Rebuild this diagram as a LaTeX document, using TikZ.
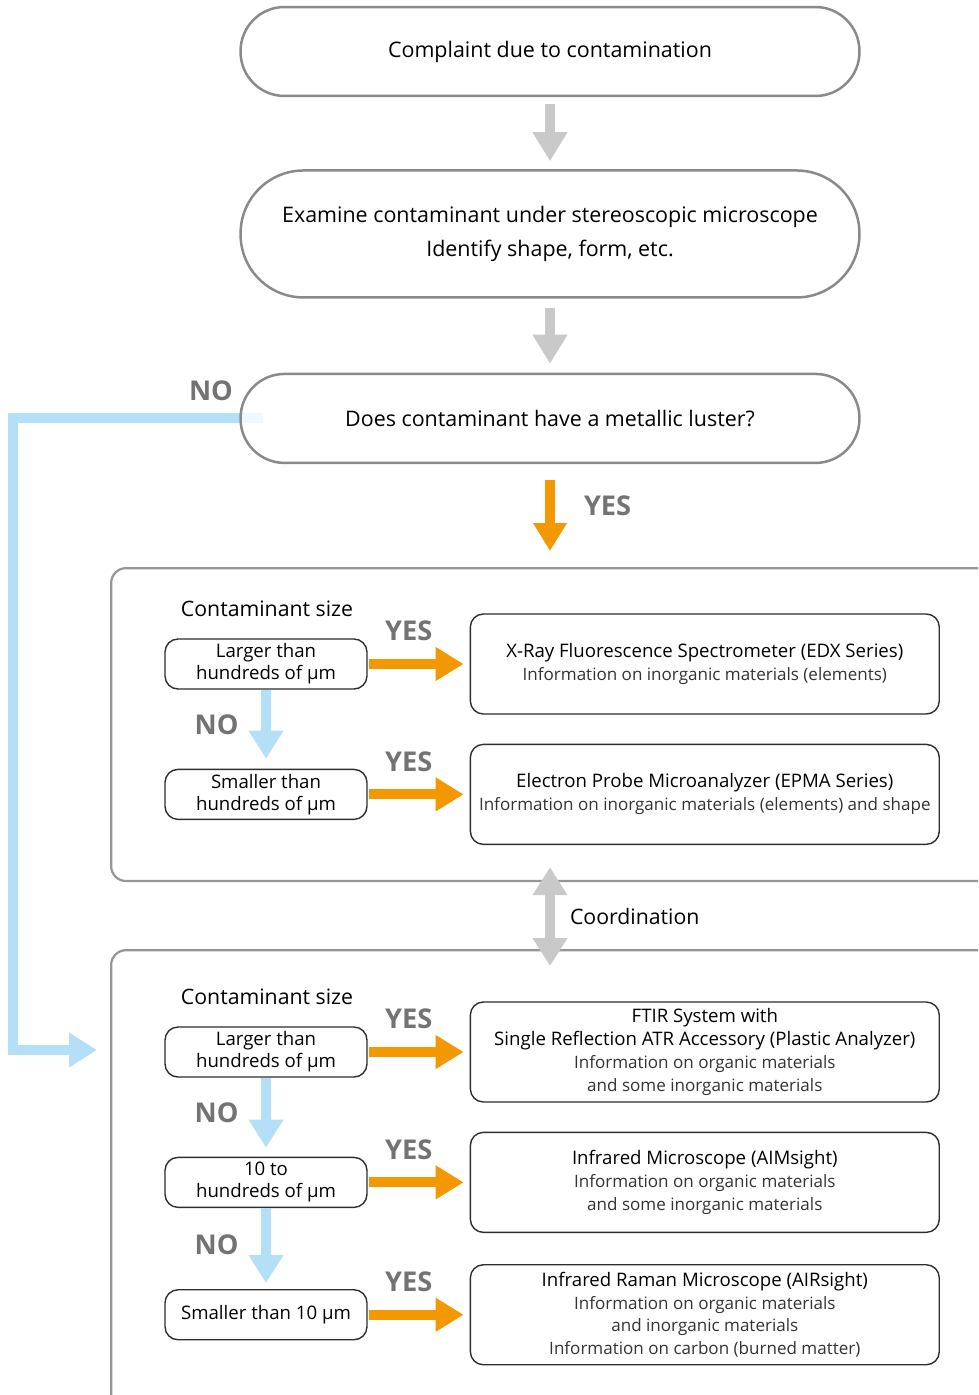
\documentclass[tikz,border=0pt]{standalone}
\usepackage{fontspec}
\setmainfont{Open Sans}
\usepackage{tikz}
\usetikzlibrary{arrows.meta, positioning, backgrounds, calc}
\definecolor{pillgray}{HTML}{8A8A8A}
\definecolor{arrgray}{HTML}{C9C9C9}
\definecolor{yesorange}{HTML}{F39800}
\definecolor{noblue}{HTML}{B4E0F7}
\definecolor{lblgray}{HTML}{737373}
\definecolor{boxdark}{HTML}{2E2E2E}
\tikzset{
  pillnode/.style={
    rectangle, rounded corners=0.88cm,
    minimum width=12.38cm, minimum height=1.78cm,
    text centered, font=\fontsize{12.2}{19.3}\selectfont,
    draw=pillgray, line width=0.05cm, fill=white
  },
  groupbox/.style={
    rectangle, rounded corners=0.3cm, anchor=north west,
    minimum width=19cm, draw=pillgray!90, line width=0.045cm, fill=white
  },
  sizebox/.style={
    rectangle, rounded corners=0.26cm, align=center,
    minimum width=4.04cm, minimum height=1cm, inner sep=0pt,
    font=\fontsize{10.6}{12.5}\selectfont,
    draw=boxdark, line width=0.028cm
  },
  infobox/.style={
    rectangle, rounded corners=0.26cm, align=center,
    minimum width=9.38cm, minimum height=2cm, inner sep=0pt,
    font=\fontsize{10.6}{13}\selectfont,
    draw=boxdark, line width=0.028cm
  },
  grayarrow/.style={-{Triangle[width=0.66cm, length=0.58cm]}, line width=0.2cm, color=arrgray},
  yesarrow/.style={-{Triangle[width=0.64cm, length=0.56cm]}, line width=0.2cm, color=yesorange},
  noarrow/.style={-{Triangle[width=0.66cm, length=0.56cm]}, line width=0.2cm, color=noblue},
  answer/.style={font=\fontsize{15.5}{17}\selectfont\bfseries, text=lblgray, inner sep=0pt},
  sizelbl/.style={font=\fontsize{12.1}{14}\selectfont, text=black, inner sep=0pt},
}

\newcommand{\infotext}[1]{{\fontsize{9.7}{13}\selectfont\color{black!80}#1}}

\begin{document}
\begin{tikzpicture}[x=0.02cm, y=-0.02cm, node distance=1.5cm]
  \useasboundingbox (0,0) rectangle (978,1395);
  \clip (0,0) rectangle (978,1395);

  \node[pillnode](cmp) at (550,51.5){Complaint due to contamination};
  \node[pillnode, minimum height=2.54cm, rounded corners=1.26cm, align=center,
        below=1.44cm of cmp](exam){Examine contaminant under stereoscopic microscope\\
        Identify shape, form, etc.};
  \node[pillnode, fill opacity=0.8, text opacity=1,
        below=1.48cm of exam](lust){Does contaminant have a metallic luster?};
  \node[answer](no0) at (211,391){NO};

  \draw[grayarrow, shorten <=0.14cm, shorten >=0.16cm](cmp.south)--(exam.north);
  \draw[grayarrow, shorten <=0.18cm, shorten >=0.18cm](exam.south)--(lust.north);

  \node[groupbox, minimum height=6.26cm](grp1) at (110,567){};
  \node[groupbox, minimum height=9.5cm](grp2) at (110,949){};

  \draw[yesarrow, shorten <=0.32cm, shorten >=0.32cm](lust.south)--(lust.south |- grp1.north)
    node[answer, pos=0.4, right=0.58cm](yes0){YES};

  \draw[grayarrow, {Triangle[width=0.66cm, length=0.56cm]}-{Triangle[width=0.66cm, length=0.56cm]}]
    ([yshift=0.3cm]lust.south |- grp1.south)--([yshift=-0.34cm]lust.south |- grp2.north)
    node[midway, right=0.3cm, sizelbl](coord){Coordination};

  \coordinate(bend) at (lust.west -| 13,0);
  \begin{scope}[on background layer]
    \draw[noarrow](lust.west) ++(0.48cm,0)--(bend)
      |- ([xshift=-0.26cm]grp2.west |- 0,1050);
  \end{scope}

  \node[sizelbl](cs1) at (267,609){Contaminant size};
  \node[sizebox](lg1) at (266,664){Larger than\\hundreds of µm};
  \node[sizebox, below=1.58cm of lg1](sm1){Smaller than\\hundreds of µm};
  \node[infobox, right=2.04cm of lg1](xrf){X-Ray Fluorescence Spectrometer (EDX Series)\\
        \infotext{Information on inorganic materials (elements)}};
  \node[infobox, right=2.04cm of sm1](epma){Electron Probe Microanalyzer (EPMA Series)\\
        \infotext{Information on inorganic materials (elements) and shape}};

  \draw[noarrow, shorten >=0.2cm](lg1.south)--(sm1.north)
    node[answer, pos=0.45, left=0.45cm](no1){NO};
  \draw[yesarrow, shorten <=0.02cm, shorten >=0.12cm](lg1.east)--(xrf.west)
    node[answer, midway, above=0.36cm, xshift=-0.2cm](yes1){YES};
  \draw[yesarrow, shorten <=0.02cm, shorten >=0.12cm](sm1.east)--(epma.west)
    node[answer, midway, above=0.36cm, xshift=-0.2cm](yes2){YES};

  \node[sizelbl](cs2) at (267,997){Contaminant size};
  \node[sizebox](lg2) at (266,1052){Larger than\\hundreds of µm};
  \node[sizebox, below=1.58cm of lg2](md2){10 to\\hundreds of µm};
  \node[sizebox, below=1.62cm of md2](sm2){Smaller than 10 µm};
  \node[infobox, right=2.04cm of lg2](ftir){FTIR System with\\
        Single Reflection ATR Accessory (Plastic Analyzer)\\
        \infotext{Information on organic materials}\\
        \infotext{and some inorganic materials}};
  \node[infobox, right=2.04cm of md2](aim){Infrared Microscope (AIMsight)\\
        \infotext{Information on organic materials}\\
        \infotext{and some inorganic materials}};
  \node[infobox, right=2.04cm of sm2](air){Infrared Raman Microscope (AIRsight)\\
        \infotext{Information on organic materials}\\
        \infotext{and inorganic materials}\\
        \infotext{Information on carbon (burned matter)}};

  \draw[noarrow, shorten >=0.18cm](lg2.south)--(md2.north)
    node[answer, pos=0.45, left=0.45cm](no2){NO};
  \draw[noarrow, shorten >=0.12cm](md2.south)--(sm2.north)
    node[answer, pos=0.45, left=0.45cm](no3){NO};
  \draw[yesarrow, shorten <=0.02cm, shorten >=0.12cm](lg2.east)--(ftir.west)
    node[answer, midway, above=0.36cm, xshift=-0.2cm](yes3){YES};
  \draw[yesarrow, shorten <=0.02cm, shorten >=0.12cm](md2.east)--(aim.west)
    node[answer, midway, above=0.36cm, xshift=-0.2cm](yes4){YES};
  \draw[yesarrow, shorten <=0.02cm, shorten >=0.12cm](sm2.east)--(air.west)
    node[answer, midway, above=0.36cm, xshift=-0.2cm](yes5){YES};
\end{tikzpicture}
\end{document}
